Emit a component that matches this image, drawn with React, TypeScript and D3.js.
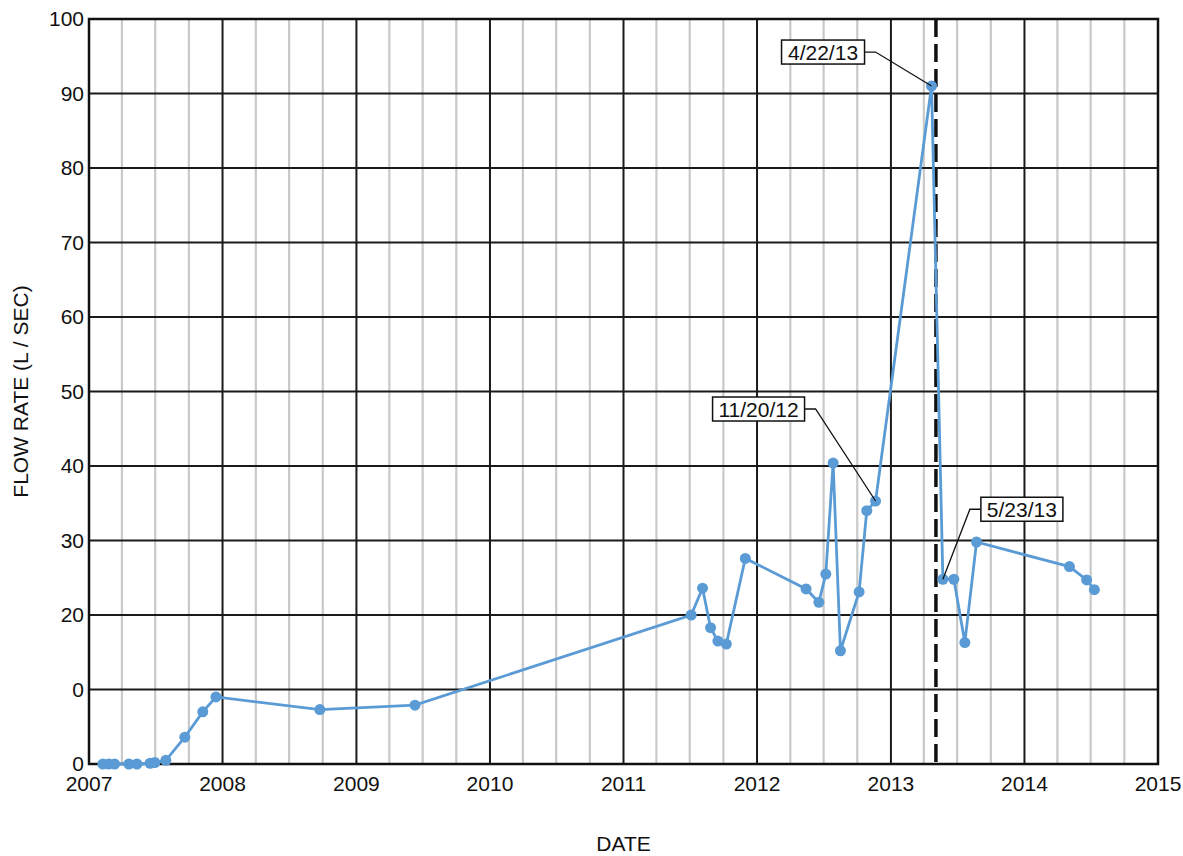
import React from 'react';
import * as d3 from 'd3';

// sample dates and measured flow (L/sec)
const sampleDates = [
  '2007-02-08', '2007-02-24', '2007-03-12', '2007-04-20', '2007-05-12', '2007-06-17',
  '2007-06-30', '2007-07-30', '2007-09-20', '2007-11-08', '2007-12-14', '2008-09-23',
  '2009-06-10', '2011-07-05', '2011-08-05', '2011-08-27', '2011-09-16', '2011-10-09',
  '2011-11-30', '2012-05-14', '2012-06-18', '2012-07-07', '2012-07-27', '2012-08-16',
  '2012-10-06', '2012-10-27', '2012-11-20', '2013-04-22', '2013-05-23', '2013-06-22',
  '2013-07-22', '2013-08-23', '2014-05-04', '2014-06-20', '2014-07-11',
];
const flowRates = [
  0, 0, 0, 0, 0, 0.1,
  0.2, 0.5, 3.6, 7.0, 9.0, 7.3,
  7.9, 20.0, 23.6, 18.3, 16.5, 16.1,
  27.6, 23.5, 21.7, 25.5, 40.4, 15.2,
  23.1, 34.0, 35.3, 91.0, 24.8, 24.8,
  16.3, 29.8, 26.5, 24.7, 23.4,
];

const yTickValues = [0, 10, 20, 30, 40, 50, 60, 70, 80, 90, 100];
const yTickLabels = ['0', '0', '20', '30', '40', '50', '60', '70', '80', '90', '100'];
const xTickYears = [2007, 2008, 2009, 2010, 2011, 2012, 2013, 2014, 2015];

const eventDate = '2013-05-04';

const annotationLabels = ['4/22/13', '11/20/12', '5/23/13'];
const annotationDates = ['2013-04-22', '2012-11-20', '2013-05-23'];

const W = 1183;
const H = 856;
const margin = { left: 89, right: 25, top: 19, bottom: 92 };
const FONT = 'Liberation Sans, Arial, sans-serif';

const parse = d3.timeParse('%Y-%m-%d');

export default function App() {
  const x = d3.scaleTime()
    .domain([new Date(2007, 0, 1), new Date(2015, 0, 1)])
    .range([margin.left, W - margin.right]);
  const y = d3.scaleLinear().domain([0, 100]).range([H - margin.bottom, margin.top]);

  const pts = sampleDates.map((d, i) => ({ date: parse(d) as Date, v: flowRates[i] }));
  const line = d3.line<{ date: Date; v: number }>().x(d => x(d.date)).y(d => y(d.v));

  const quarters: Date[] = [];
  xTickYears.slice(0, -1).forEach(yr => {
    [3, 6, 9].forEach(m => quarters.push(new Date(yr, m, 1)));
  });

  const x0 = x.range()[0], x1 = x.range()[1];
  const y0 = y.range()[0], y1 = y.range()[1];

  // box placement relative to the annotated point
  const boxOffsets = [
    { dx: -150, dy: -46, w: 83, elbow: 11, side: 'left' },
    { dx: -163, dy: -104, w: 92, elbow: 11, side: 'left' },
    { dx: 38, dy: -82, w: 82, elbow: -11, side: 'right' },
  ];

  return (
    <div style={{ position: 'absolute', left: 0, top: 0 }}>
      <svg width={W} height={H} style={{ display: 'block', background: '#fff' }} fontFamily={FONT}>
        {/* minor quarter gridlines */}
        {quarters.map((q, i) => (
          <line key={'q' + i} x1={x(q)} x2={x(q)} y1={y1} y2={y0} stroke="#c9c9c9" strokeWidth={2.2} />
        ))}
        {/* horizontal gridlines */}
        {yTickValues.map(v => (
          <line key={'h' + v} x1={x0} x2={x1} y1={y(v)} y2={y(v)} stroke="#1a1a1a" strokeWidth={2} />
        ))}
        {/* year gridlines */}
        {xTickYears.map(yr => (
          <line key={'y' + yr} x1={x(new Date(yr, 0, 1))} x2={x(new Date(yr, 0, 1))} y1={y1} y2={y0}
            stroke="#1a1a1a" strokeWidth={2} />
        ))}
        <rect x={x0} y={y1} width={x1 - x0} height={y0 - y1} fill="none" stroke="#111" strokeWidth={2.5} />

        {/* event marker */}
        <line x1={x(parse(eventDate) as Date)} x2={x(parse(eventDate) as Date)} y1={y1} y2={y0}
          stroke="#111" strokeWidth={3.5} strokeDasharray="18,7" />

        <path d={line(pts) || ''} fill="none" stroke="#5b9bd5" strokeWidth={2.8} />
        {pts.map((p, i) => (
          <circle key={'p' + i} cx={x(p.date)} cy={y(p.v)} r={5.5} fill="#5b9bd5" />
        ))}

        {/* annotations */}
        {annotationLabels.map((lab, i) => {
          const d = parse(annotationDates[i]) as Date;
          const v = flowRates[sampleDates.indexOf(annotationDates[i])];
          const px = x(d), py = y(v);
          const o = boxOffsets[i];
          const bx = px + o.dx, by = py + o.dy;
          const h = 24;
          const attachX = o.side === 'left' ? bx + o.w : bx;
          const midY = by + h / 2;
          return (
            <g key={'a' + i}>
              <polyline points={`${attachX},${midY} ${attachX + o.elbow},${midY} ${px},${py}`}
                fill="none" stroke="#111" strokeWidth={1.3} />
              <rect x={bx} y={by} width={o.w} height={h} fill="#fff" stroke="#111" strokeWidth={1.5} />
              <text x={bx + o.w / 2} y={midY + 7.5} textAnchor="middle" fontSize={21} fill="#111">{lab}</text>
            </g>
          );
        })}

        {/* y tick labels */}
        {yTickValues.map((v, i) => (
          <text key={'yl' + v} x={x0 - 5} y={y(v) + 7} textAnchor="end" fontSize={21} fill="#111">
            {yTickLabels[i]}
          </text>
        ))}
        {/* x tick labels */}
        {xTickYears.map(yr => (
          <text key={'xl' + yr} x={x(new Date(yr, 0, 1))} y={y0 + 27} textAnchor="middle" fontSize={21} fill="#111">
            {yr}
          </text>
        ))}

        <text x={(x0 + x1) / 2} y={H - 5} textAnchor="middle" fontSize={21} fill="#111">DATE</text>
        <text transform={`translate(28,${(y0 + y1) / 2}) rotate(-90)`} textAnchor="middle" fontSize={21} fill="#111">
          FLOW RATE (L / SEC)
        </text>
      </svg>
    </div>
  );
}
